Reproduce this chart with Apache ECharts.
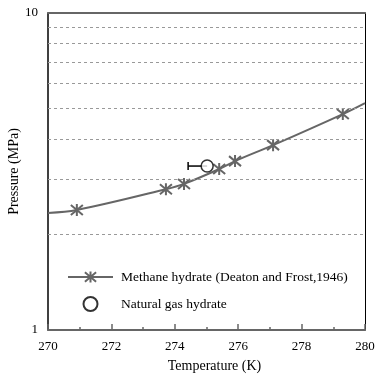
<!DOCTYPE html>
<html>
<head>
<meta charset="utf-8">
<script src="https://cdn.jsdelivr.net/npm/echarts@6/dist/echarts.min.js"></script>
<style>html,body{margin:0;padding:0;background:#fff;}#c{width:384px;height:378px;}</style>
</head>
<body>
<div id="c"></div>
<script>
// Methane hydrate (Deaton and Frost, 1946)
const methaneT = [270.91, 273.72, 274.29, 275.4, 275.9, 277.1, 279.3];
const methaneP = [2.39, 2.78, 2.89, 3.22, 3.41, 3.83, 4.80];
// Fitted curve end points
const curveStart = [270, 2.34];
const curveEnd = [280, 5.20];
// Natural gas hydrate
const gasT = [275.02];
const gasP = [3.29];
const gasTLow = [274.42];
// Grid lines & ticks
const gridValues = [2, 3, 4, 5, 6, 7, 8, 9];
const xTicks = [270, 272, 274, 276, 278, 280];

const font = 'Liberation Serif';
const star = 'path://M0,0L10,10M10,0L0,10M5,-1L5,11';

const methaneData = [{value: curveStart, symbol: 'none'}]
  .concat(methaneT.map((t, i) => [t, methaneP[i]]))
  .concat([{value: curveEnd, symbol: 'none'}]);

const chart = echarts.init(document.getElementById('c'), null, {renderer: 'canvas'});
chart.setOption({
  animation: false,
  backgroundColor: '#fff',
  grid: {left: 48, right: 19, top: 13, bottom: 48, containLabel: false, outerBoundsMode: 'none'},
  legend: {
    orient: 'vertical', left: 62, top: 265,
    itemWidth: 45, itemHeight: 14, itemGap: 12,
    textStyle: {fontFamily: font, fontSize: 13.5, color: '#000', padding: [0, 0, 0, 3]},
    data: ['Methane hydrate (Deaton and Frost,1946)', 'Natural gas hydrate']
  },
  xAxis: [{
    type: 'value', min: xTicks[0], max: xTicks[xTicks.length - 1], interval: 2,
    name: 'Temperature (K)', nameLocation: 'middle', nameGap: 29, nameMoveOverlap: false,
    nameTextStyle: {fontFamily: font, fontSize: 14, color: '#000', padding: [0, 0, 0, 16]},
    axisLine: {lineStyle: {color: '#666', width: 2}},
    axisTick: {inside: true, length: 6, lineStyle: {color: '#666', width: 1.5}},
    minorTick: {show: true, splitNumber: 2, length: 3, lineStyle: {color: '#666', width: 1.5}},
    axisLabel: {fontFamily: font, fontSize: 13, color: '#000', margin: 10},
    splitLine: {show: false}
  }, {
    type: 'value', position: 'top', min: 270, max: 280,
    axisLine: {show: true, lineStyle: {color: '#666', width: 2}},
    axisTick: {show: false}, axisLabel: {show: false}, splitLine: {show: false}
  }],
  yAxis: [{
    type: 'log', logBase: 10, min: 1, max: 10,
    name: 'Pressure (MPa)', nameLocation: 'middle', nameGap: 27, nameMoveOverlap: false,
    nameTextStyle: {fontFamily: font, fontSize: 14, color: '#000'},
    axisLine: {show: true, lineStyle: {color: '#000', width: 1.5}},
    axisTick: {show: false},
    axisLabel: {fontFamily: font, fontSize: 13, color: '#000', margin: 10},
    splitLine: {show: false}
  }, {
    type: 'log', logBase: 10, min: 1, max: 10, position: 'right',
    axisLine: {show: true, lineStyle: {color: '#000', width: 1}},
    axisTick: {show: false}, axisLabel: {show: false}, splitLine: {show: false}
  }],
  series: [{
    name: 'grid', type: 'line', data: [], z: 1, silent: true,
    markLine: {
      silent: true, symbol: 'none', label: {show: false},
      lineStyle: {type: [3, 3], color: '#999', width: 1},
      data: gridValues.map(v => ({yAxis: v}))
    }
  }, {
    name: 'Methane hydrate (Deaton and Frost,1946)', type: 'line',
    data: methaneData, smooth: 0.35,
    symbol: star, symbolSize: 12,
    lineStyle: {color: '#666', width: 2},
    itemStyle: {color: '#666', borderColor: '#666', borderWidth: 2},
    z: 3
  }, {
    name: 'errbar', type: 'custom', z: 4,
    data: gasT.map((t, i) => [t, gasP[i], gasTLow[i]]),
    renderItem: function (params, api) {
      const p = api.coord([api.value(0), api.value(1)]);
      const l = api.coord([api.value(2), api.value(1)]);
      return {type: 'group', children: [
        {type: 'line', shape: {x1: l[0], y1: l[1], x2: p[0], y2: p[1]}, style: {stroke: '#000', lineWidth: 1.5}},
        {type: 'line', shape: {x1: l[0], y1: l[1] - 4, x2: l[0], y2: l[1] + 4}, style: {stroke: '#000', lineWidth: 1.5}}
      ]};
    }
  }, {
    name: 'Natural gas hydrate', type: 'scatter',
    data: gasT.map((t, i) => [t, gasP[i]]),
    symbol: 'circle', symbolSize: 12,
    itemStyle: {color: '#fff', borderColor: '#000', borderWidth: 1.5},
    z: 5
  }]
});
</script>
</body>
</html>
